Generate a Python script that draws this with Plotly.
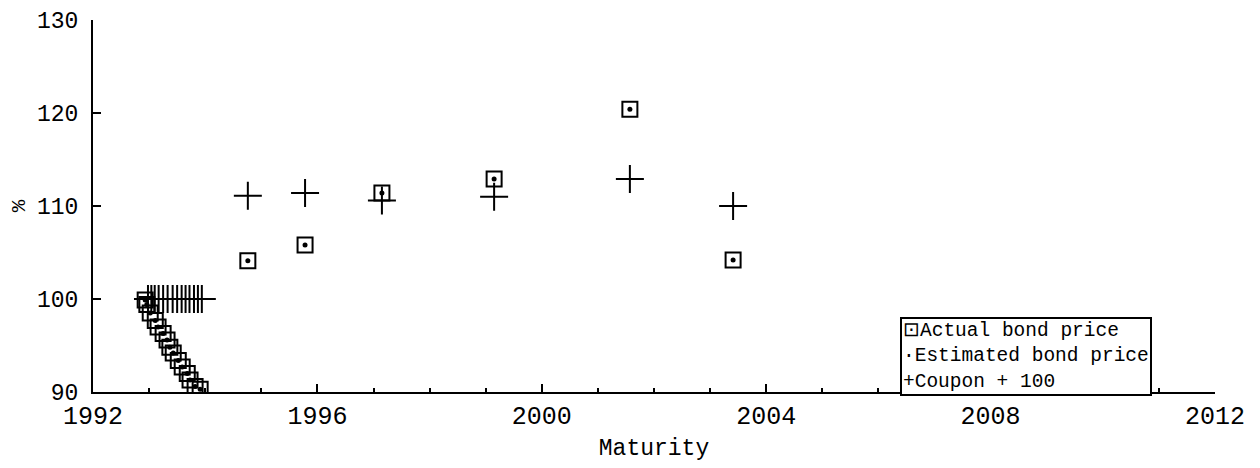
import plotly.graph_objects as go

# Maturities (years) and prices (%)
maturity = [1992.93, 1992.96, 1993.02, 1993.11, 1993.16, 1993.25, 1993.32, 1993.37,
            1993.43, 1993.52, 1993.59, 1993.68, 1993.73, 1993.82, 1993.91,
            1994.76, 1995.78, 1997.15, 1999.15, 2001.57, 2003.41]
actual_price = [99.9, 99.4, 98.5, 97.7, 97.0, 96.3, 95.6, 94.8,
                94.2, 93.4, 92.7, 92.0, 91.3, 90.6, 90.3,
                104.1, 105.8, 111.4, 112.9, 120.4, 104.2]
estimated_price = [99.9, 99.4, 98.5, 97.7, 97.0, 96.3, 95.6, 94.8,
                   94.2, 93.4, 92.7, 92.0, 91.3, 90.6, 90.3,
                   104.1, 105.8, 111.4, 112.9, 120.4, 104.2]
coupon_maturity = [1992.98, 1993.04, 1993.1, 1993.17, 1993.25, 1993.33, 1993.42, 1993.5,
                   1993.58, 1993.65, 1993.72, 1993.8, 1993.87, 1993.94,
                   1994.76, 1995.78, 1997.15, 1999.15, 2001.57, 2003.41]
coupon_plus_100 = [100, 100, 100, 100, 100, 100, 100, 100, 100, 100, 100, 100, 100, 100,
                   111.1, 111.4, 110.6, 111.0, 112.9, 110.0]

x_ticks = [1992, 1996, 2000, 2004, 2008, 2012]
y_ticks = [90, 100, 110, 120, 130]

legend_lines = ["⊡Actual bond price", "·Estimated bond price", "+Coupon + 100"]

FONT = "Liberation Mono"

fig = go.Figure()
fig.add_trace(go.Scatter(
    x=maturity, y=actual_price, mode="markers", name="Actual bond price",
    marker=dict(symbol="square-open", size=15, color="black", line=dict(width=2, color="black")),
))
fig.add_trace(go.Scatter(
    x=maturity, y=estimated_price, mode="markers", name="Estimated bond price",
    marker=dict(symbol="circle", size=5, color="black"),
))
fig.add_trace(go.Scatter(
    x=coupon_maturity, y=coupon_plus_100, mode="markers", name="Coupon + 100",
    marker=dict(symbol="cross-thin-open", size=20, color="black", line=dict(width=2, color="black")),
))

fig.add_annotation(
    xref="paper", yref="paper", x=0.719, y=-0.012, xanchor="left", yanchor="bottom",
    text="<br>".join(legend_lines), align="left", showarrow=False,
    font=dict(family=FONT, size=19.5, color="black"),
    bordercolor="black", borderwidth=2, borderpad=1, bgcolor="white",
)

fig.update_layout(
    width=1260, height=468,
    paper_bgcolor="white", plot_bgcolor="white",
    margin=dict(l=85, r=53, t=12, b=84, autoexpand=False),
    font=dict(family=FONT, size=22, color="black"),
    showlegend=False,
    xaxis=dict(
        range=[1992, 2012], tickvals=x_ticks, ticktext=[str(v) for v in x_ticks],
        automargin=False,
        showgrid=False, zeroline=False, showline=True, linecolor="black", linewidth=2,
        ticks="inside", ticklen=8, tickwidth=1.5, tickcolor="black",
        minor=dict(dtick=1, ticks="inside", ticklen=4, tickcolor="black"),
        title=dict(text="Maturity", font=dict(family=FONT, size=23), standoff=8),
        tickfont=dict(family=FONT, size=25),
    ),
    yaxis=dict(
        range=[90, 130], tickvals=y_ticks,
        automargin=False,
        showgrid=False, zeroline=False, showline=True, linecolor="black", linewidth=2,
        ticks="inside", ticklen=8, tickwidth=1.5, tickcolor="black",
        ticklabelstandoff=8,
        title=dict(text="%", font=dict(family=FONT, size=21), standoff=6),
        tickfont=dict(family=FONT, size=23),
    ),
)

fig.write_html("out.html")
